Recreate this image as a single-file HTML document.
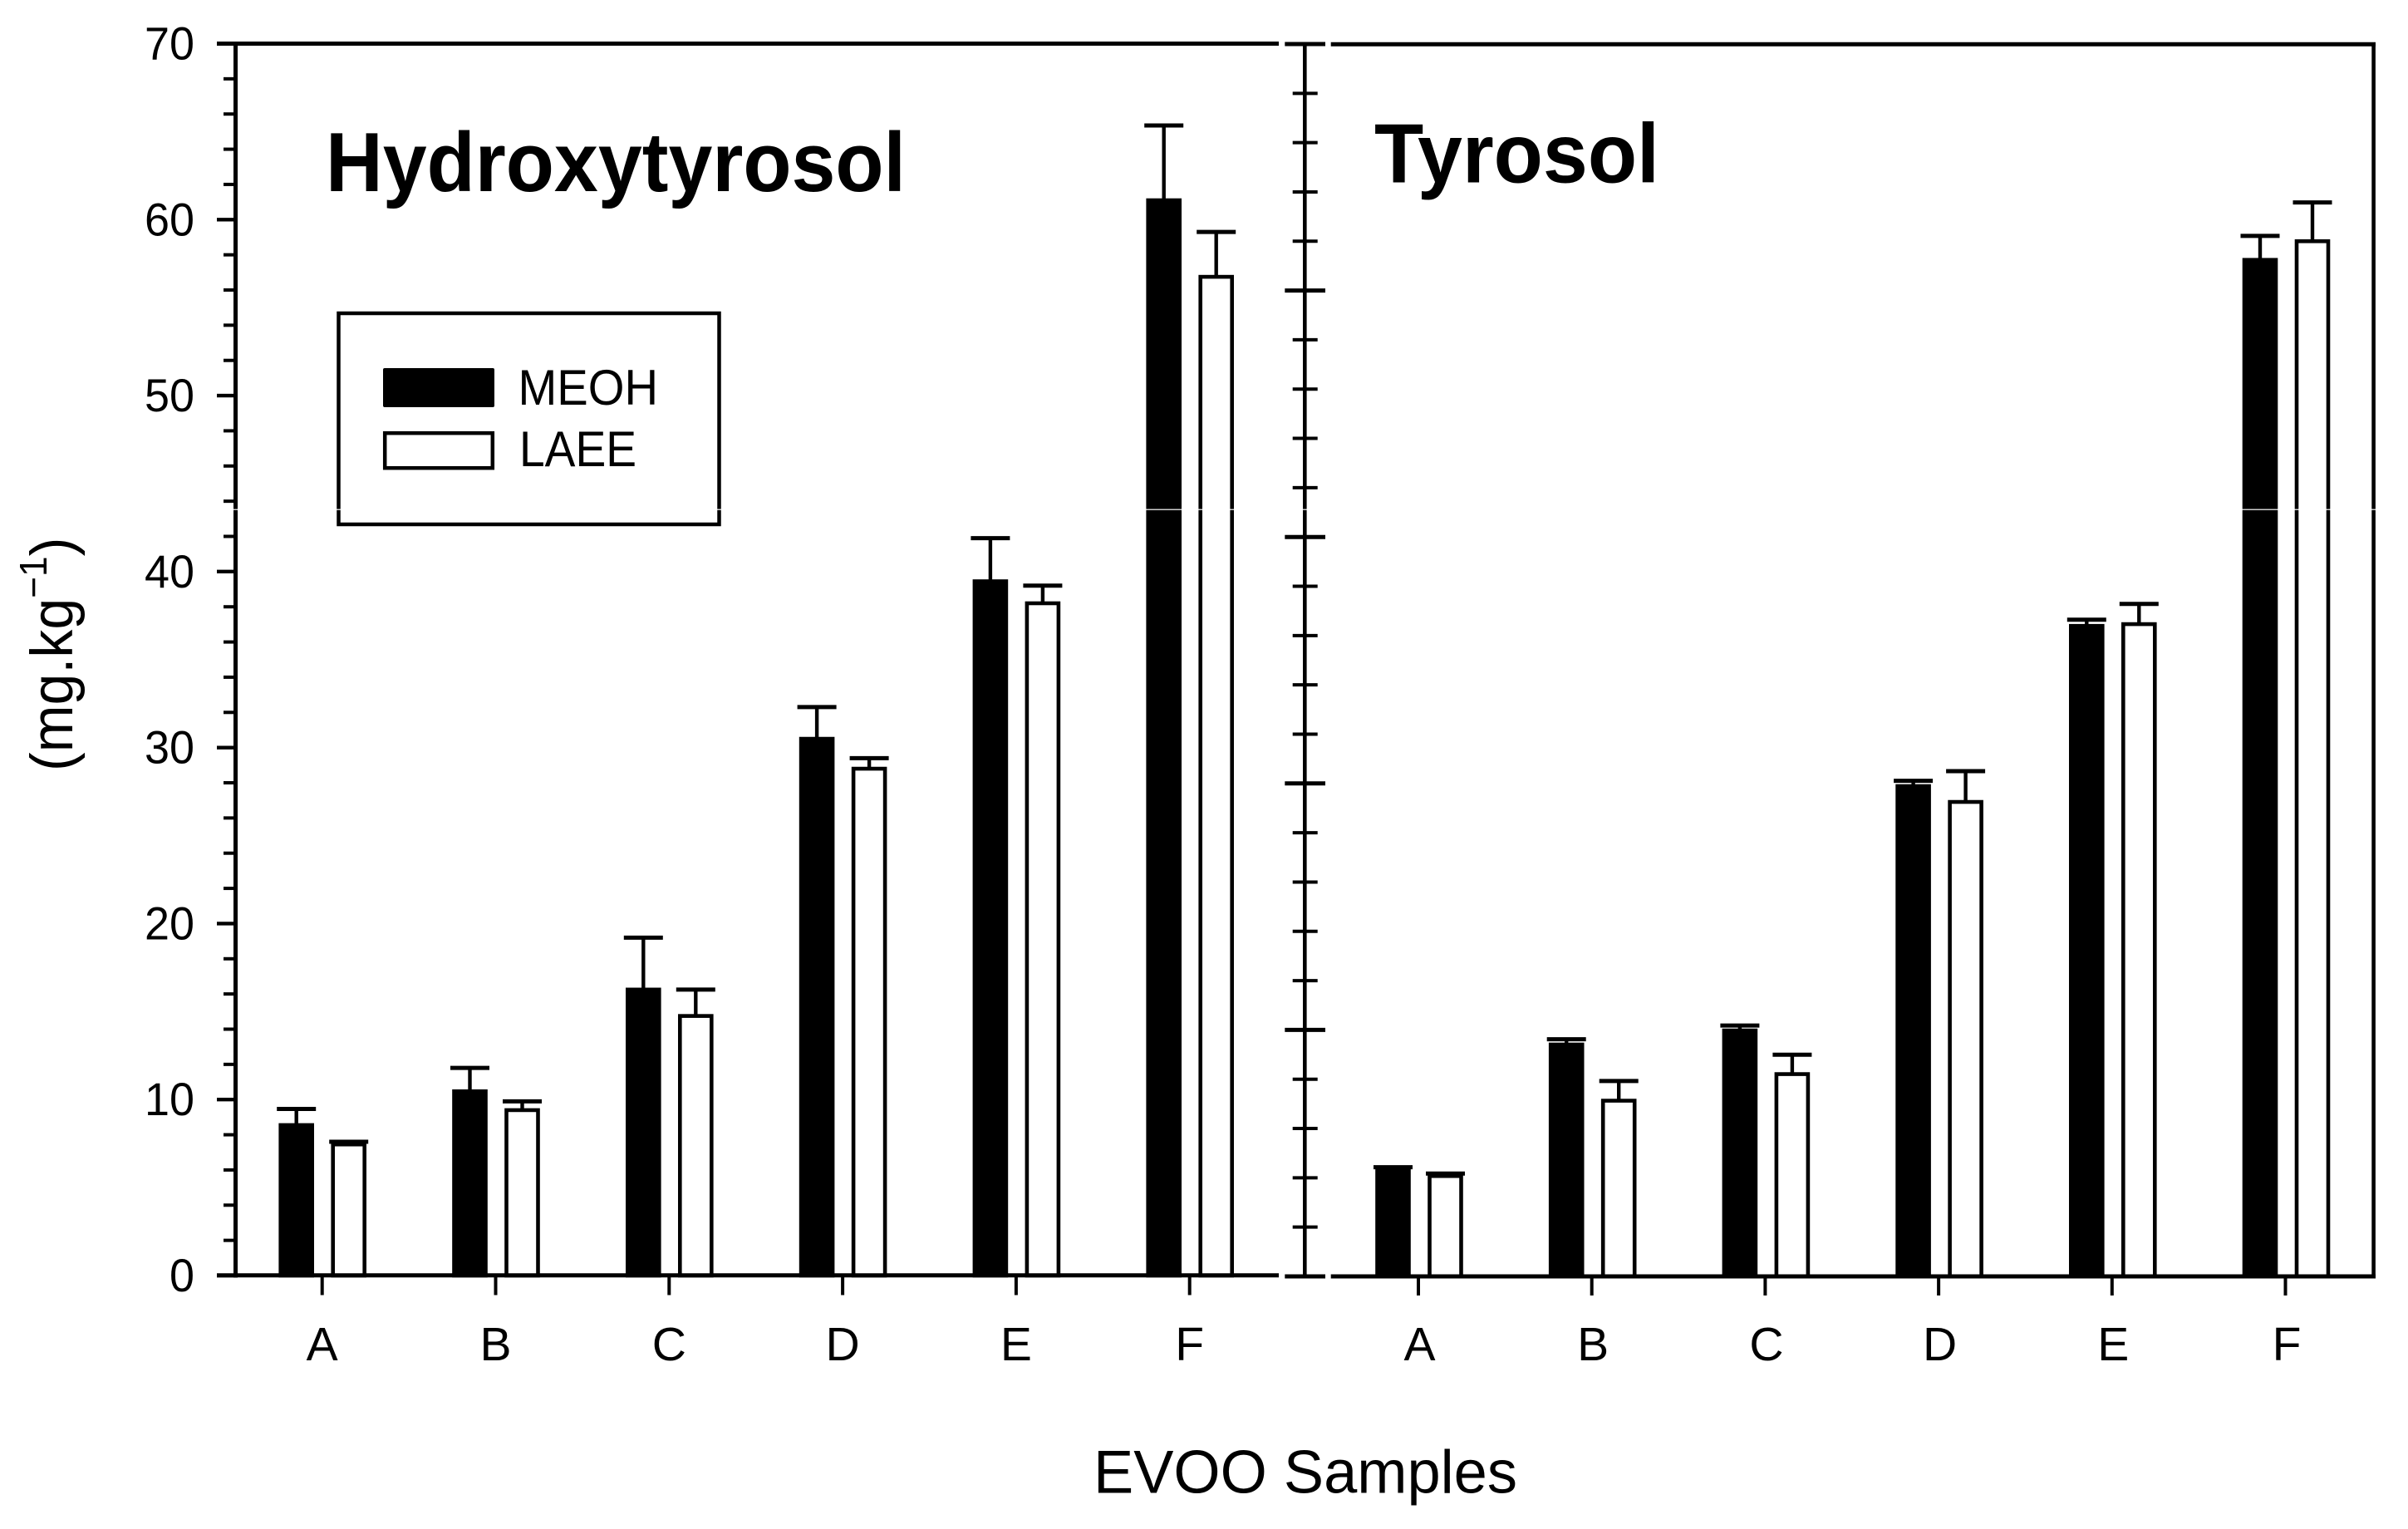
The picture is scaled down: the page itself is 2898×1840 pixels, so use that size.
<!DOCTYPE html>
<html lang="en">
<head>
<meta charset="utf-8">
<title>Hydroxytyrosol and Tyrosol in EVOO samples</title>
<style>
html,body{margin:0;padding:0;background:#fff;width:2898px;height:1840px;overflow:hidden}
svg{display:block}
text{font-family:"Liberation Sans",Arial,sans-serif;fill:#000}
</style>
</head>
<body>
<svg id="chart" xmlns="http://www.w3.org/2000/svg" width="2898" height="1840" viewBox="0 0 2898 1840">
<rect x="0" y="0" width="2898" height="1840" fill="#ffffff"/>
<g id="plot"></g>
<text x="392" y="230" font-size="101" font-weight="bold" textLength="698" lengthAdjust="spacingAndGlyphs">Hydroxytyrosol</text>
<text x="1654" y="219.6" font-size="101" font-weight="bold" textLength="343" lengthAdjust="spacingAndGlyphs">Tyrosol</text>
<g>
<rect x="407.5" y="377" width="458" height="254" fill="#fff" stroke="#000" stroke-width="4.5"/>
<rect x="461" y="443" width="134" height="47" rx="2" fill="#000"/>
<text x="623.5" y="487" font-size="60" textLength="168.5" lengthAdjust="spacingAndGlyphs">MEOH</text>
<rect x="463.2" y="521.2" width="129.6" height="42" fill="#fff" stroke="#000" stroke-width="4.5"/>
<text x="625" y="561" font-size="60" textLength="141" lengthAdjust="spacingAndGlyphs">LAEE</text>
</g>
<text x="1316" y="1796.7" font-size="73" textLength="510" lengthAdjust="spacingAndGlyphs">EVOO Samples</text>
<text transform="translate(87 928) rotate(-90) scale(0.96 1)" font-size="71">(mg.kg<tspan font-size="46" dy="-31">−1</tspan><tspan dy="31">)</tspan></text>
<rect x="0" y="612.6" width="2898" height="1.2" fill="#ffffff"/>
</svg>
<script>
// ---- chart data ----
const categories = ["A", "B", "C", "D", "E", "F"];
const hydroxyMeoh = [8.55, 10.47, 16.25, 30.5, 39.45, 61.1];
const hydroxyMeohUpper = [9.47, 11.8, 19.2, 32.3, 41.9, 65.35];
const hydroxyLaee = [7.45, 9.4, 14.75, 28.8, 38.2, 56.75];
const hydroxyLaeeUpper = [7.6, 9.9, 16.25, 29.4, 39.2, 59.3];
const tyrosolMeoh = [6.1, 13.17, 13.97, 27.85, 36.95, 57.74];
const tyrosolMeohUpper = [6.2, 13.47, 14.25, 28.15, 37.3, 59.1];
const tyrosolLaee = [5.7, 9.98, 11.49, 26.95, 37.05, 58.8];
const tyrosolLaeeUpper = [5.84, 11.1, 12.59, 28.7, 38.2, 61.0];
const yTickLabels = [0, 10, 20, 30, 40, 50, 60, 70];
const yMinorTicks = [2, 4, 6, 8, 12, 14, 16, 18, 22, 24, 26, 28, 32, 34, 36, 38, 42, 44, 46, 48, 52, 54, 56, 58, 62, 64, 66, 68];
const midMajorTicks = [0, 14, 28, 42, 56, 70];
const midMinorTicks = [2.8, 5.6, 8.4, 11.2, 16.8, 19.6, 22.4, 25.2, 30.8, 33.6, 36.4, 39.2, 44.8, 47.6, 50.4, 53.2, 58.8, 61.6, 64.4, 67.2];

// ---- axis functions ----
const plot = document.getElementById('plot');
const NS = 'http://www.w3.org/2000/svg';
const yLeft = v => 1535 - (v / 70) * (1535 - 52.5);
const yRight = v => 1536 - (v / 70) * (1536 - 53);
const xLeft = i => 387.7 + i * 208.8;
const xRight = i => 1708 + i * 208.7;

function mk(tag, props) {
  const e = document.createElementNS(NS, tag);
  for (const k in props) e.setAttribute(k, props[k]);
  plot.appendChild(e);
  return e;
}
function seg(x1, y1, x2, y2, w) {
  return mk('line', { x1: x1, y1: y1, x2: x2, y2: y2, stroke: '#000', 'stroke-width': w });
}

function drawSeries(vals, uppers, xFn, yFn, offset, filled, label) {
  vals.forEach((v, i) => {
    const cx = xFn(i) + offset;
    const bar = mk('rect', {
      x: cx - 19, y: yFn(v), width: 38, height: yFn(0) - yFn(v),
      fill: filled ? '#000' : '#fff', stroke: '#000', 'stroke-width': 4.6
    });
    
    
    const whisker = seg(cx, yFn(uppers[i]), cx, yFn(v), 4.4);
    
    
    const cap = seg(cx - 23.5, yFn(uppers[i]), cx + 23.5, yFn(uppers[i]), 5);
    
    
  });
}

drawSeries(hydroxyMeoh, hydroxyMeohUpper, xLeft, yLeft, -31, true, 'hydroxytyrosol-meoh');
drawSeries(hydroxyLaee, hydroxyLaeeUpper, xLeft, yLeft, 32, false, 'hydroxytyrosol-laee');
drawSeries(tyrosolMeoh, tyrosolMeohUpper, xRight, yRight, -31.5, true, 'tyrosol-meoh');
drawSeries(tyrosolLaee, tyrosolLaeeUpper, xRight, yRight, 31.5, false, 'tyrosol-laee');

// left y axis
const leftAxis = seg(283.5, 50, 283.5, 1537.5, 5);


yTickLabels.forEach(v => {
  const t = seg(261, yLeft(v), 283, yLeft(v), 4.4);
  
  
  const l = mk('text', { x: 234, y: yLeft(v) + 19, 'font-size': 56, 'text-anchor': 'end', textLength: String(v).length * 30, lengthAdjust: 'spacingAndGlyphs' });
  l.textContent = String(v);
  
  
});
yMinorTicks.forEach(v => {
  const t = seg(269, yLeft(v), 283, yLeft(v), 4);
  
  
});

// frame pieces
const topLeft = seg(261, 52.5, 1539, 52.5, 5);


const bottomLeft = seg(261, 1534.7, 1539, 1534.7, 5);


const topRight = seg(1601.7, 53.3, 2859, 53.3, 5);


const bottomRight = seg(1601.7, 1536, 2859, 1536, 5);


const rightEdge = seg(2856.6, 51, 2856.6, 1538, 4.6);



// middle axis
const midAxis = seg(1570.3, 53, 1570.3, 1536, 4.6);


midMajorTicks.forEach(v => {
  const t = seg(1546.3, yRight(v), 1595, yRight(v), 5);
  
  
});
midMinorTicks.forEach(v => {
  const t = seg(1555.7, yRight(v), 1585.7, yRight(v), 4);
  
  
});

// x ticks and category labels
categories.forEach((c, i) => {
  const tl = seg(xLeft(i), 1536, xLeft(i), 1558.5, 4);
  
  
  const ll = mk('text', { x: xLeft(i), y: 1637, 'font-size': 57, 'text-anchor': 'middle' });
  ll.textContent = c;
  
  
  const tr = seg(xRight(i) - 1, 1537, xRight(i) - 1, 1559, 4);
  
  
  const lr = mk('text', { x: xRight(i) + 0.5, y: 1637, 'font-size': 57, 'text-anchor': 'middle' });
  lr.textContent = c;
  
  
});
</script>
</body>
</html>
